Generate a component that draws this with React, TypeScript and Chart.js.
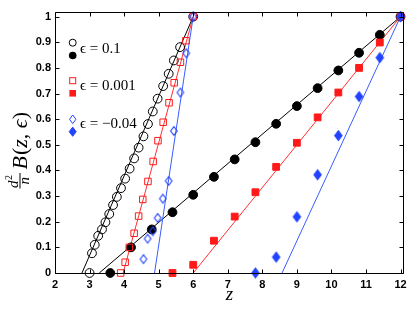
import React, { useEffect, useRef } from "react";
import { Chart, registerables } from "chart.js";

Chart.register(...registerables);

// ---------- data ----------
// epsilon = 0.1 (open circles)
const zOpenCircle = [3.0, 3.07, 3.15, 3.25, 3.36, 3.46, 3.57, 3.68, 3.79, 3.91, 4.03, 4.16, 4.29, 4.42, 4.56, 4.69, 4.83, 4.97, 5.13, 5.29, 5.44, 5.62, 6.0];
const bOpenCircle = [0, 0.077, 0.11, 0.145, 0.17, 0.198, 0.23, 0.265, 0.297, 0.331, 0.368, 0.407, 0.447, 0.489, 0.533, 0.581, 0.63, 0.68, 0.729, 0.777, 0.829, 0.881, 1.0];
// epsilon = 0.1 (filled circles)
const zFilledCircle = [3.6, 4.2, 4.8, 5.4, 6.0, 6.6, 7.2, 7.8, 8.4, 9.0, 9.6, 10.2, 10.8, 11.4, 12.0];
const bFilledCircle = [0, 0.1, 0.17, 0.237, 0.305, 0.375, 0.443, 0.51, 0.582, 0.651, 0.721, 0.79, 0.859, 0.929, 1.0];
// epsilon = 0.001 (open squares)
const zOpenSquare = [3.9, 4.03, 4.15, 4.29, 4.42, 4.54, 4.69, 4.84, 4.98, 5.13, 5.3, 5.45, 5.63, 5.79, 6.0];
const bOpenSquare = [0, 0.042, 0.1, 0.155, 0.222, 0.287, 0.357, 0.435, 0.516, 0.588, 0.664, 0.742, 0.822, 0.906, 1.0];
// epsilon = 0.001 (filled squares)
const zFilledSquare = [5.4, 6.0, 6.6, 7.2, 7.8, 8.4, 9.0, 9.6, 10.2, 10.8, 11.4, 12.0];
const bFilledSquare = [0, 0.032, 0.126, 0.22, 0.315, 0.414, 0.508, 0.607, 0.704, 0.8, 0.899, 1.0];
// epsilon = -0.04 (open diamonds)
const zOpenDiamond = [4.56, 4.68, 4.83, 4.97, 5.12, 5.29, 5.44, 5.63, 5.8, 6.0];
const bOpenDiamond = [0.054, 0.134, 0.163, 0.215, 0.29, 0.359, 0.554, 0.704, 0.857, 1.0];
// epsilon = -0.04 (filled diamonds)
const zFilledDiamond = [7.8, 8.4, 9.0, 9.6, 10.2, 10.8, 11.4, 12.0];
const bFilledDiamond = [0, 0.062, 0.219, 0.383, 0.536, 0.688, 0.84, 1.0];
// fitted straight lines (z at B=0 and at B=1)
const lineBlackOpen = [2.78, 6.0];
const lineBlackFilled = [3.28, 12.0];
const lineRedOpen = [3.97, 6.0];
const lineRedFilled = [6.0, 12.0];
const lineBlueOpen = [4.88, 6.0];
const lineBlueFilled = [8.57, 12.0];
const lineB = [0, 1];

const legendLabels = ["\u03f5 = 0.1", "\u03f5 = 0.001", "\u03f5 = \u22120.04"];

const BLACK = "#000000";
const RED = "#ff1a1a";
const BLUE = "#2244ff";
const RED_LINE = "#ff3030";
const BLUE_LINE = "#3a5cff";
const SERIF = "'Liberation Serif', 'DejaVu Serif', serif";

function pts(xs: number[], ys: number[]) {
  return xs.map((x, i) => ({ x, y: ys[i] }));
}

function diamondCanvas(hw: number, hh: number, color: string, filled: boolean) {
  const c = document.createElement("canvas");
  const w = Math.ceil(hw * 2 + 3);
  const h = Math.ceil(hh * 2 + 3);
  c.width = w;
  c.height = h;
  const g = c.getContext("2d")!;
  const cx = w / 2, cy = h / 2;
  g.beginPath();
  g.moveTo(cx, cy - hh);
  g.lineTo(cx + hw, cy);
  g.lineTo(cx, cy + hh);
  g.lineTo(cx - hw, cy);
  g.closePath();
  if (filled) {
    g.fillStyle = color;
    g.fill();
  }
  g.strokeStyle = color;
  g.lineWidth = 1.1;
  g.stroke();
  return c;
}

function drawDiamond(ctx: CanvasRenderingContext2D, x: number, y: number, hw: number, hh: number, color: string, filled: boolean) {
  ctx.beginPath();
  ctx.moveTo(x, y - hh);
  ctx.lineTo(x + hw, y);
  ctx.lineTo(x, y + hh);
  ctx.lineTo(x - hw, y);
  ctx.closePath();
  if (filled) {
    ctx.fillStyle = color;
    ctx.fill();
  }
  ctx.strokeStyle = color;
  ctx.lineWidth = 1;
  ctx.stroke();
}

const decorPlugin = {
  id: "decor",
  afterDraw(chart: any) {
    const { ctx, chartArea: a, scales } = chart;
    const xs = scales.x, ys = scales.y;
    ctx.save();
    // box
    ctx.strokeStyle = "#000";
    ctx.lineWidth = 1;
    const L = Math.round(a.left) + 0.5, R = Math.round(a.right) - 0.5;
    const T = Math.round(a.top) + 0.5, B = Math.round(a.bottom) + 0.5;
    ctx.beginPath();
    ctx.rect(L, T, R - L, B - T);
    ctx.stroke();
    // inward ticks
    const TL = 4;
    ctx.beginPath();
    xs.ticks.forEach((t: any) => {
      const px = Math.round(xs.getPixelForValue(t.value)) + 0.5;
      ctx.moveTo(px, B);
      ctx.lineTo(px, B - TL);
      ctx.moveTo(px, T);
      ctx.lineTo(px, T + TL);
    });
    ys.ticks.forEach((t: any) => {
      const py = Math.round(ys.getPixelForValue(t.value)) + 0.5;
      ctx.moveTo(L, py);
      ctx.lineTo(L + TL, py);
      ctx.moveTo(R, py);
      ctx.lineTo(R - TL, py);
    });
    ctx.stroke();

    // legend
    const mx = 72.7;
    ctx.lineWidth = 1;
    ctx.strokeStyle = BLACK;
    ctx.beginPath();
    ctx.arc(mx, 42.7, 3.5, 0, Math.PI * 2);
    ctx.stroke();
    ctx.fillStyle = BLACK;
    ctx.beginPath();
    ctx.arc(mx, 55.5, 3.8, 0, Math.PI * 2);
    ctx.fill();
    ctx.strokeStyle = RED;
    ctx.strokeRect(mx - 3, 80.7 - 3, 6, 6);
    ctx.fillStyle = RED;
    ctx.fillRect(mx - 3.3, 93.3 - 3.3, 6.6, 6.6);
    drawDiamond(ctx, mx, 119.3, 3.2, 4.3, BLUE, false);
    drawDiamond(ctx, mx, 131.7, 3.5, 4.6, BLUE, true);

    ctx.fillStyle = "#000";
    ctx.font = `15px ${SERIF}`;
    ctx.textBaseline = "alphabetic";
    ctx.textAlign = "left";
    ctx.fillText(legendLabels[0], 80, 53.3);
    ctx.fillText(legendLabels[1], 80, 89.5);
    ctx.fillText(legendLabels[2], 80, 128);

    // x label
    ctx.font = `italic 19px ${SERIF}`;
    ctx.textAlign = "center";
    ctx.fillText("z", (a.left + a.right) / 2, 300);

    // y label (rotated): fillText(text, -screenY, screenX)
    ctx.save();
    ctx.rotate(-Math.PI / 2);
    ctx.textAlign = "left";
    let u = -188;
    ctx.font = `italic 15px ${SERIF}`;
    ctx.fillText("d", u, 18);
    const dw = ctx.measureText("d").width;
    ctx.font = `10px ${SERIF}`;
    ctx.fillText("2", u + dw + 0.5, 12);
    const tw = ctx.measureText("2").width;
    const fracW = dw + tw + 2;
    ctx.fillRect(u - 0.5, 19.5, fracW + 1, 1);
    ctx.font = `italic 15px ${SERIF}`;
    const nw = ctx.measureText("n").width;
    ctx.fillText("n", u + (fracW - nw) / 2, 29);
    u += fracW + 4;
    const parts: [string, boolean][] = [["B", true], ["(", false], ["z", true], [",", false], [" ", false], ["\u03f5", true], [")", false]];
    parts.forEach(([s, it]) => {
      ctx.font = `${it ? "italic " : ""}22px ${SERIF}`;
      ctx.fillText(s, u, 27);
      u += ctx.measureText(s).width + (s === "B" ? 1 : 0);
    });
    ctx.restore();

    ctx.restore();
  },
};

export default function App() {
  const ref = useRef<HTMLCanvasElement>(null);
  useEffect(() => {
    const canvas = ref.current!;
    const openD = diamondCanvas(3.3, 4.4, BLUE, false);
    const fillD = diamondCanvas(3.7, 4.9, BLUE, true);
    const pointBase = { showLine: false, clip: false as any, borderWidth: 1 };
    const lineBase = { showLine: true, pointRadius: 0, borderWidth: 1, clip: false as any };
    // dataset 0 is painted last (on top): blue above red above black, markers above lines
    const chart = new Chart(canvas, {
      type: "scatter",
      data: {
        datasets: [
          { ...pointBase, data: pts(zFilledDiamond, bFilledDiamond), pointStyle: fillD as any, pointRadius: 4, borderColor: BLUE, backgroundColor: BLUE },
          { ...pointBase, data: pts(zOpenDiamond, bOpenDiamond), pointStyle: openD as any, pointRadius: 4, borderColor: BLUE, backgroundColor: "rgba(0,0,0,0)" },
          { ...pointBase, data: pts(zFilledSquare, bFilledSquare), pointStyle: "rect", pointRadius: 4.8, borderColor: RED, backgroundColor: RED },
          { ...pointBase, data: pts(zOpenSquare, bOpenSquare), pointStyle: "rect", pointRadius: 4.6, borderColor: RED, backgroundColor: "rgba(0,0,0,0)" },
          { ...pointBase, data: pts(zFilledCircle, bFilledCircle), pointStyle: "circle", pointRadius: 4.4, borderColor: BLACK, backgroundColor: BLACK },
          { ...pointBase, data: pts(zOpenCircle, bOpenCircle), pointStyle: "circle", pointRadius: 4.4, borderColor: BLACK, backgroundColor: "rgba(0,0,0,0)" },
          { ...lineBase, data: pts(lineBlueFilled, lineB), borderColor: BLUE_LINE },
          { ...lineBase, data: pts(lineBlueOpen, lineB), borderColor: BLUE_LINE },
          { ...lineBase, data: pts(lineRedFilled, lineB), borderColor: RED_LINE },
          { ...lineBase, data: pts(lineRedOpen, lineB), borderColor: RED_LINE },
          { ...lineBase, data: pts(lineBlackFilled, lineB), borderColor: BLACK },
          { ...lineBase, data: pts(lineBlackOpen, lineB), borderColor: BLACK },
        ] as any,
      },
      options: {
        animation: false,
        responsive: false,
        devicePixelRatio: 1,
        layout: { padding: { top: 12, right: 11, bottom: 0, left: 0 } },
        plugins: { legend: { display: false }, tooltip: { enabled: false } },
        scales: {
          x: {
            type: "linear",
            min: 2,
            max: 12.1,
            grid: { display: false, drawTicks: false },
            border: { display: false },
            ticks: {
              stepSize: 1,
              includeBounds: false,
              autoSkip: false,
              maxRotation: 0,
              padding: 5,
              color: "#000",
              font: { family: "'Liberation Sans', Arial, sans-serif", size: 11, weight: "bold" },
              callback: (v: any) => String(Math.round(Number(v))),
            },
            afterFit: (s: any) => {
              s.height = 39;
              s.paddingLeft = 0;
              s.paddingRight = 0;
            },
          },
          y: {
            type: "linear",
            min: 0,
            max: 1.018,
            grid: { display: false, drawTicks: false },
            border: { display: false },
            ticks: {
              stepSize: 0.1,
              includeBounds: false,
              autoSkip: false,
              padding: 4,
              color: "#000",
              font: { family: "'Liberation Sans', Arial, sans-serif", size: 11, weight: "bold" },
              callback: (v: any) => String(Math.round(Number(v) * 10) / 10),
            },
            afterFit: (s: any) => {
              s.width = 55;
              s.paddingTop = 0;
              s.paddingBottom = 0;
            },
          },
        },
      } as any,
      plugins: [decorPlugin],
    });
    return () => chart.destroy();
  }, []);
  return (
    <div style={{ position: "absolute", left: 0, top: 0, width: 415, height: 312, background: "#fff" }}>
      <canvas ref={ref} width={415} height={312} style={{ display: "block", width: 415, height: 312 }} />
    </div>
  );
}
